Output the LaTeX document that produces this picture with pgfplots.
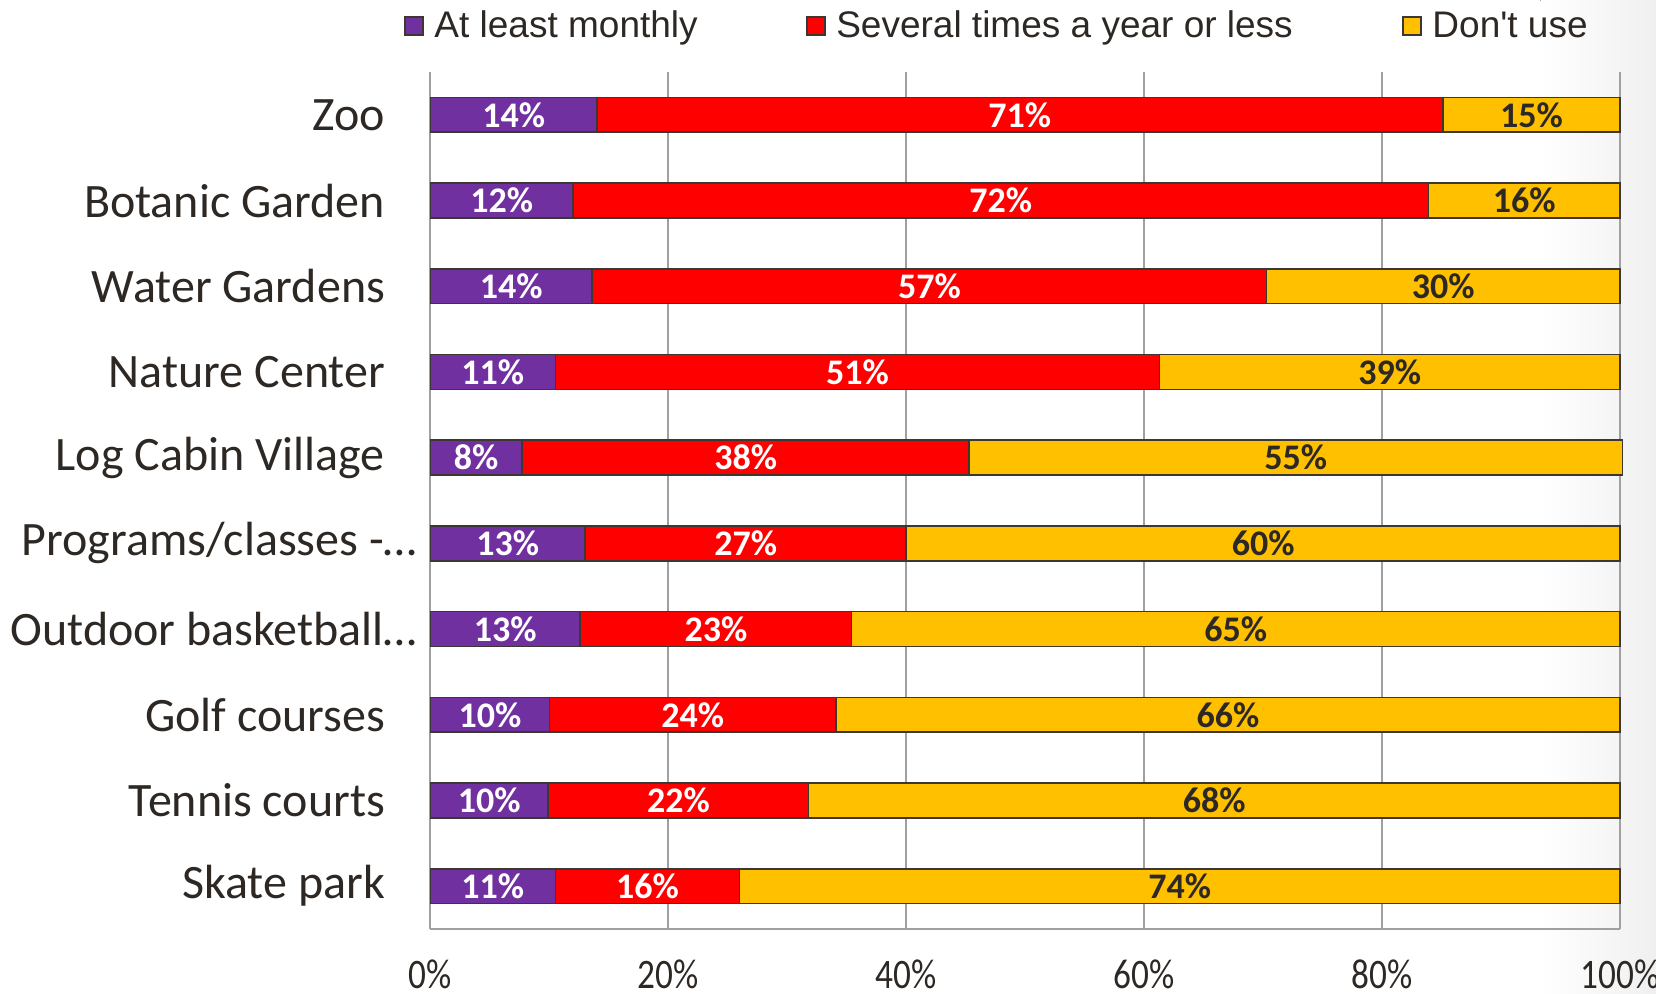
\documentclass[border=0pt]{standalone}
\usepackage{pgfplots}
\pgfplotsset{compat=1.18}
\usepackage{pgfplotstable}
\usepackage{fontspec}
\setmainfont{Carlito}
\newfontfamily\legfont{Liberation Sans}
\newfontfamily\tickfont[FakeStretch=0.84]{Carlito}

\definecolor{monthly}{RGB}{112,48,160}
\definecolor{yearly}{RGB}{255,0,0}
\definecolor{nouse}{RGB}{255,192,0}
\definecolor{txt}{RGB}{45,40,35}
\definecolor{gridc}{RGB}{160,160,160}
\definecolor{edge}{RGB}{60,55,50}

% pos: 0 = top row; m/s/d = segment lengths, lm/ls/ld = printed labels
\pgfplotstableread{
pos m    s     d     lm ls ld
0   14.0 71.1  14.9  14 71 15
1   12.0 71.9  16.1  12 72 16
2   13.6 56.7  29.7  14 57 30
3   10.5 50.8  38.7  11 51 39
4    7.7 37.6  54.9   8 38 55
5   13.0 27.0  60.0  13 27 60
6   12.6 22.8  64.6  13 23 65
7   10.0 24.1  65.9  10 24 66
8    9.9 21.9  68.2  10 22 68
9   10.5 15.5  74.0  11 16 74
}\usage

\newcommand\legentry[2]{\hspace*{5.25pt}\makebox[#1][l]{#2}}

\begin{document}
\begin{tikzpicture}
% faint grey fade on the right edge, as in the slide
\fill[left color=white, right color=black!6] (555pt,-32pt) rectangle (612.8pt,464.5pt);
\begin{axis}[
  scale only axis,
  width=594.8pt, height=428.5pt,
  xbar stacked,
  bar width=17.4pt,
  y dir=reverse,
  xmin=0, xmax=100,
  ymin=-0.5, ymax=9.5,
  xtick={0,20,40,60,80,100},
  xticklabels={0\%,20\%,40\%,60\%,80\%,100\%},
  ytick={0,...,9},
  yticklabels={Zoo, Botanic Garden, Water Gardens, Nature Center, Log Cabin Village,
    Programs/classes -…\kern-16pt, Outdoor basketball…\kern-16pt,
    Golf courses, Tennis courts, Skate park},
  major tick length=0pt,
  axis x line*=bottom,
  axis y line*=left,
  axis line style={gridc, line width=1pt},
  xmajorgrids,
  major grid style={gridc, line width=1pt},
  yticklabel style={font=\fontsize{24}{28}\selectfont, text=txt, inner sep=0pt,
    anchor=east, xshift=-22.5pt},
  xticklabel style={font=\tickfont\fontsize{21}{24}\selectfont, text=txt, inner sep=0pt,
    anchor=center, yshift=-22.5pt},
  point meta=explicit symbolic,
  nodes near coords={\pgfplotspointmeta\%},
  every node near coord/.append style={font=\bfseries\fontsize{18}{21}\selectfont},
  legend columns=3,
  legend style={at={(0,1)}, anchor=west, xshift=-13pt, yshift=23pt,
    draw=none, fill=none, inner sep=0pt, outer sep=0pt, column sep=0pt,
    nodes={inner sep=0pt},
    font=\legfont\fontsize{18.5}{22}\selectfont, text=txt},
  legend cell align=left,
  clip=false,
]
\addplot[fill=monthly, draw=edge, line width=0.8pt,
  every node near coord/.append style={text=white},
  legend image code/.code={\draw[fill=monthly, draw=edge, line width=0.8pt] (0pt,-4.5pt) rectangle (9pt,4.5pt);}]
  table[x=m, y=pos, meta=lm] {\usage};
\addlegendentry{\legentry{185.85pt}{At least monthly}}
\addplot[fill=yearly, draw=edge, line width=0.8pt,
  every node near coord/.append style={text=white},
  legend image code/.code={\draw[fill=yearly, draw=edge, line width=0.8pt] (0pt,-4.5pt) rectangle (9pt,4.5pt);}]
  table[x=s, y=pos, meta=ls] {\usage};
\addlegendentry{\legentry{283.05pt}{Several times a year or less}}
\addplot[fill=nouse, draw=edge, line width=0.8pt,
  every node near coord/.append style={text=txt},
  legend image code/.code={\draw[fill=nouse, draw=edge, line width=0.8pt] (0pt,-4.5pt) rectangle (9pt,4.5pt);}]
  table[x=d, y=pos, meta=ld] {\usage};
\addlegendentry{\legentry{0pt}{Don't use}}
\end{axis}
\pgfresetboundingbox
\path[use as bounding box] (-215.2pt,-32pt) rectangle (612.8pt,464.5pt);
\end{tikzpicture}
\end{document}
